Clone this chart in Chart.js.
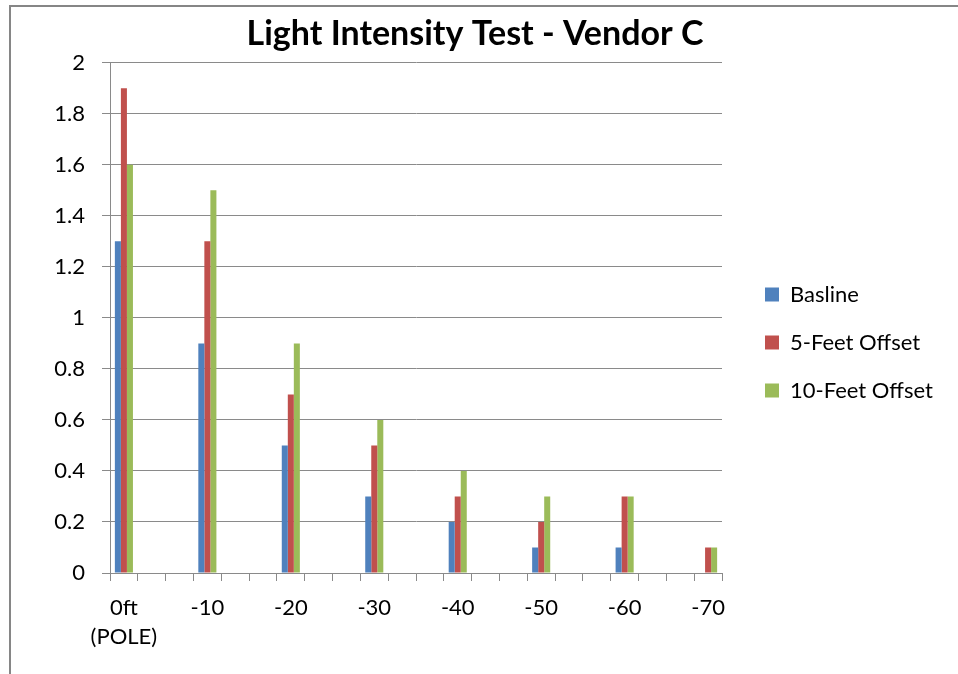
<!DOCTYPE html>
<html><head><meta charset="utf-8">
<script src="https://cdn.jsdelivr.net/npm/chart.js@4.4.1/dist/chart.umd.min.js"></script>
<style>
html,body{margin:0;padding:0;background:#fff;overflow:hidden;width:958px;height:674px;}
#frame{position:absolute;left:9px;top:5px;width:1200px;height:1000px;border:2px solid #868686;box-sizing:border-box;}
#c{position:absolute;left:0;top:0;}
</style></head><body>
<div id="frame"></div>
<canvas id="c" width="958" height="674"></canvas>
<script>
// ---- data ----
const categories = [['0ft', '(POLE)'], '-10', '-20', '-30', '-40', '-50', '-60', '-70'];
const seriesNames = ['Basline', '5-Feet Offset', '10-Feet Offset'];
const basline   = [1.3, 0.9, 0.5, 0.3, 0.2, 0.1, 0.1, 0];
const fiveFeet  = [1.9, 1.3, 0.7, 0.5, 0.3, 0.2, 0.3, 0.1];
const tenFeet   = [1.6, 1.5, 0.9, 0.6, 0.4, 0.3, 0.3, 0.1];
const yTickLabels = ['0', '0.2', '0.4', '0.6', '0.8', '1', '1.2', '1.4', '1.6', '1.8', '2'];
const colors = ['#4F81BD', '#C0504D', '#9BBB59'];

// the category axis has two empty slots between labelled categories
const slotsPerCategory = 3;
const slotCount = (categories.length - 1) * slotsPerCategory + 1;
function spread(arr, empty) {
  const out = new Array(slotCount).fill(empty);
  arr.forEach((v, i) => { out[i * slotsPerCategory] = v; });
  return out;
}
const labels = spread(categories, '');

const FONT = 'Lato';
const GRID = '#8a8a8a';
Chart.defaults.font.family = FONT;
Chart.defaults.color = '#000';

const LEGEND_PAD = 26;
const LEGEND_LEFT = 739;   // target left edge of legend block
const PLOT_RIGHT = 722;

const chart = new Chart(document.getElementById('c'), {
  type: 'bar',
  data: {
    labels: labels,
    datasets: [basline, fiveFeet, tenFeet].map((d, i) => ({
      label: seriesNames[i],
      data: spread(d, null),
      backgroundColor: colors[i],
      borderWidth: 0,
      categoryPercentage: 0.65,
      barPercentage: 1.0
    }))
  },
  options: {
    responsive: false,
    animation: false,
    devicePixelRatio: 1,
    layout: { padding: { top: 11, left: 14, right: 22, bottom: 0 } },
    plugins: {
      title: {
        display: true,
        text: 'Light Intensity Test - Vendor C',
        color: '#000',
        font: { family: FONT, size: 34, weight: 'bold', lineHeight: 1.2 },
        padding: { top: 3, bottom: 8 }
      },
      legend: {
        position: 'right',
        align: 'center',
        maxWidth: 400,
        labels: {
          boxWidth: 14, boxHeight: 14,
          padding: LEGEND_PAD,
          color: '#000',
          font: { family: FONT, size: 22 }
        }
      },
      tooltip: { enabled: false }
    },
    scales: {
      x: {
        offset: true,
        grid: { display: true, drawOnChartArea: false, drawTicks: true, tickLength: 8, color: GRID, offset: true },
        border: { display: true, color: GRID },
        ticks: {
          autoSkip: false, maxRotation: 0, minRotation: 0,
          padding: 13,
          color: '#000',
          font: { family: FONT, size: 22, lineHeight: 1.3 }
        },
        afterFit: (s) => { s.height = 101; }
      },
      y: {
        min: 0, max: 2,
        grid: { color: GRID, tickLength: 8, drawTicks: true },
        border: { display: true, color: GRID },
        ticks: {
          stepSize: 0.2,
          padding: 17,
          color: '#000',
          font: { family: FONT, size: 22 },
          callback: (v, i) => yTickLabels[i]
        },
        afterFit: (s) => { s.width = 96; }
      },
      yR: {
        type: 'linear',
        position: 'right',
        display: true,
        grid: { display: false },
        border: { display: false },
        ticks: { display: false },
        afterFit: (s) => { s.width = LEGEND_LEFT - PLOT_RIGHT; }
      }
    }
  }
});

// position legend so its left edge sits at LEGEND_LEFT; keep title centred at 475
const lw = chart.legend.width;
const padRight = Math.max(0, 958 - LEGEND_LEFT - lw);
const padLeft = Math.max(0, padRight - 8);
chart.options.layout.padding.right = padRight;
chart.options.layout.padding.left = padLeft;
chart.options.scales.y.afterFit = (s) => { s.width = 110 - padLeft; };
chart.update();
</script>
</body></html>
